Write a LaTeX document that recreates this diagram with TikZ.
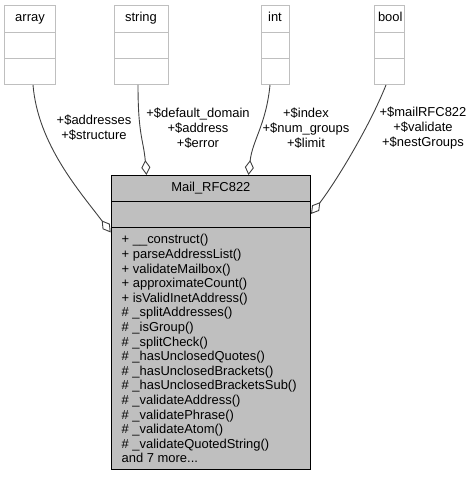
\documentclass[tikz,border=0pt]{standalone}
\usepackage{fontspec}
\setmainfont{Liberation Sans}
\usepackage{tikz}
\usetikzlibrary{shapes,arrows,arrows.meta}
\definecolor{boxgray}{HTML}{BFBFBF}
\definecolor{mainfill}{HTML}{BFBFBF}
\definecolor{edgegray}{HTML}{404040}
\tikzstyle{classbox} = [rectangle split, rectangle split parts=3, draw=boxgray, fill=white,
    line width=1bp, anchor=north, inner xsep=4bp, inner ysep=6.5bp, text height=9.5bp, text depth=3.5bp,
    align=center, rectangle split empty part height=12bp, font=\fontsize{13}{13.75}\selectfont]
\tikzstyle{mainclass} = [rectangle split, rectangle split parts=3, draw=black, fill=mainfill,
    line width=1bp, anchor=north west, inner xsep=10.5bp, inner ysep=6.5bp,
    rectangle split empty part height=12bp, font=\fontsize{13}{13.75}\selectfont]
\tikzstyle{line} = [draw=edgegray, line width=0.9bp, -{Diamond[fill=white, length=15bp, width=9bp]}]
\tikzstyle{mylabel} = [align=center, inner sep=0pt, font=\fontsize{13}{15.1}\selectfont]

\begin{document}
\begin{tikzpicture}[x=1bp, y=-1bp]
    \useasboundingbox (0,0) rectangle (473,477);
    % Place nodes
    \node [classbox, text width=42bp] (array) at (30,5) {array};
    \node [classbox, text width=46bp] (string) at (141,5) {string};
    \node [classbox, text width=20bp] (int) at (275,5) {int};
    \node [classbox, text width=22bp] (bool) at (389,5) {bool};
    \node [mainclass] (main) at (110.7,175) {\makebox[178.3bp]{Mail\_RFC822}
        \nodepart{three}\parbox{178.3bp}{\raggedright\baselineskip=14.6bp
        + \_\_construct()\\
        + parseAddressList()\\
        + validateMailbox()\\
        + approximateCount()\\
        + isValidInetAddress()\\
        \# \_splitAddresses()\\
        \# \_isGroup()\\
        \# \_splitCheck()\\
        \# \_hasUnclosedQuotes()\\
        \# \_hasUnclosedBrackets()\\
        \# \_hasUnclosedBracketsSub()\\
        \# \_validateAddress()\\
        \# \_validatePhrase()\\
        \# \_validateAtom()\\
        \# \_validateQuotedString()\\
        and 7 more...}};
    % the labels on the edges
    \node [mylabel] (arraylabel) at (94,128) {+\$addresses\\+\$structure};
    \node [mylabel] (stringlabel) at (198,127.7) {+\$default\_domain\\+\$address\\+\$error};
    \node [mylabel] (intlabel) at (306,127.7) {+\$index\\+\$num\_groups\\+\$limit};
    \node [mylabel] (boollabel) at (423,127.7) {+\$mailRFC822\\+\$validate\\+\$nestGroups};
    % Draw edges
    \path [line] ([xshift=3bp]array.south) .. controls +(5,60) and +(-30,-40) .. ([yshift=-5bp]main.two split west);
    \path [line] ([xshift=-3bp]string.south) .. controls +(0,50) and +(-3,-35) .. ([xshift=-64.35bp]main.north);
    \path [line] ([xshift=-5bp]int.south) .. controls +(-4,40) and +(4,-35) .. ([xshift=37.65bp]main.north);
    \path [line] ([xshift=-3bp]bool.south) .. controls +(-18,45) and +(22,-28) .. ([yshift=-12.5bp]main.one split east);

\end{tikzpicture}
\end{document}
